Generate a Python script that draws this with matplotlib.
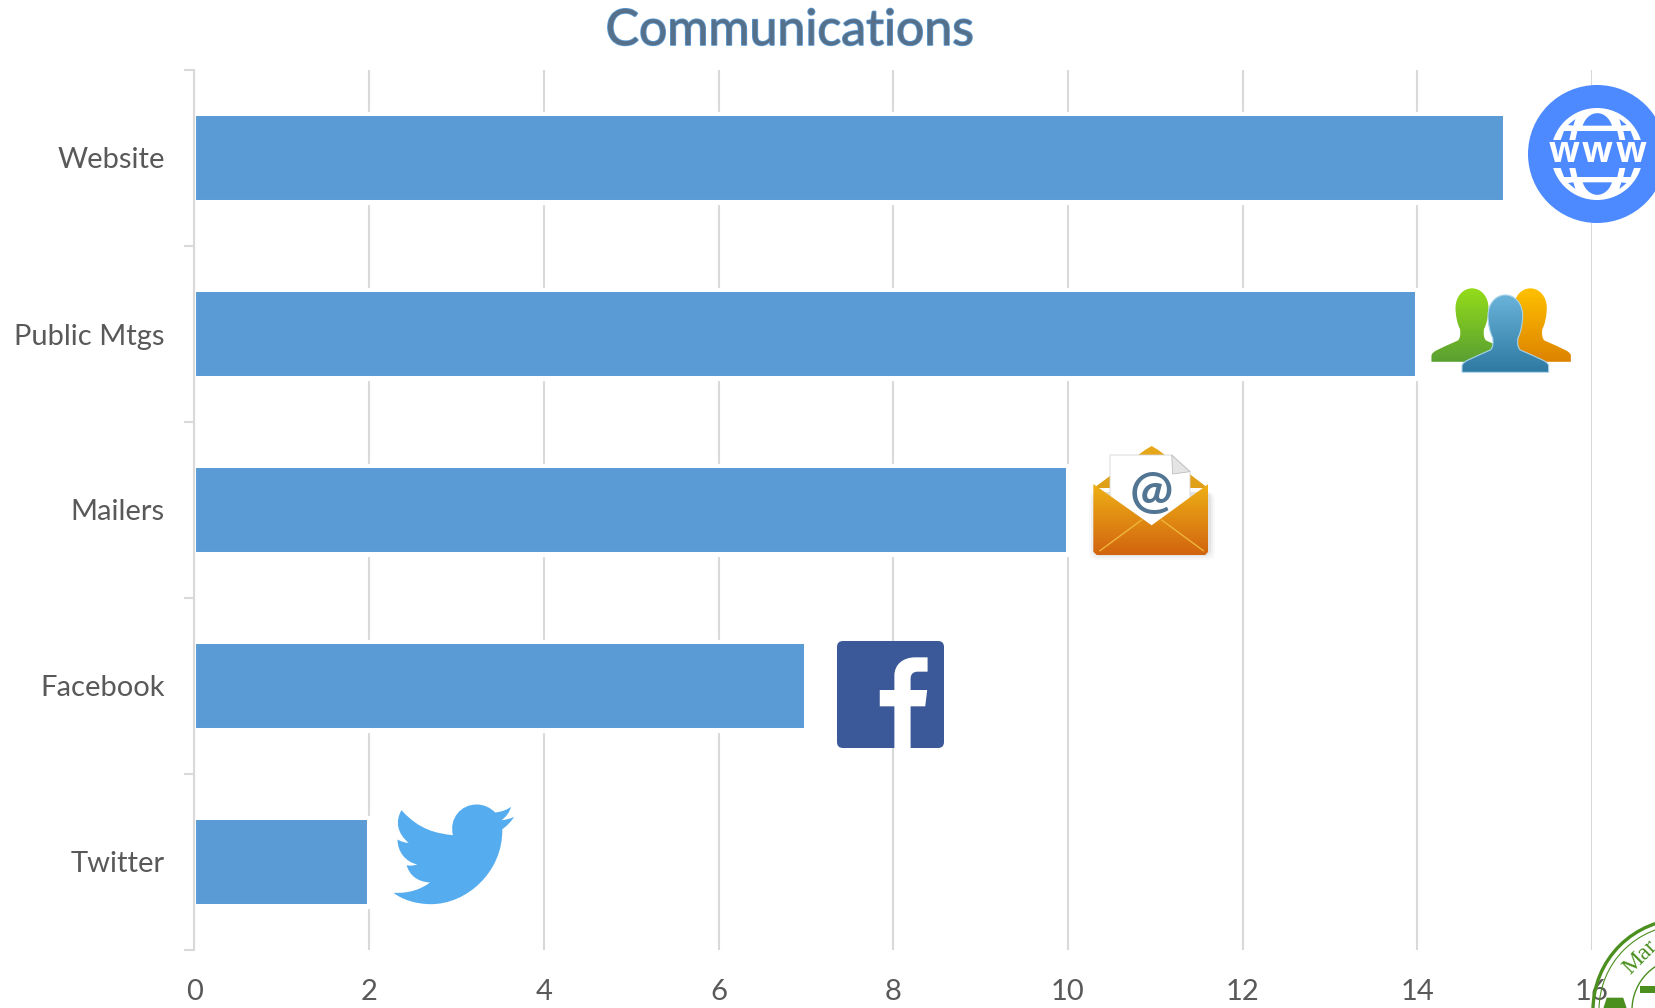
import numpy as np
import matplotlib
matplotlib.use("Agg")
import matplotlib.patheffects as pe
import matplotlib.pyplot as plt
from matplotlib.colors import LinearSegmentedColormap
from matplotlib.patches import Circle, FancyBboxPatch, PathPatch, Polygon, Rectangle, RegularPolygon
from matplotlib.path import Path

categories = ["Website", "Public Mtgs", "Mailers", "Facebook", "Twitter"]
values = [15, 14, 10, 7, 2]
x_ticks = [0, 2, 4, 6, 8, 10, 12, 14, 16]

WIDTH, HEIGHT = 1656, 1008
BAR = "#5b9bd5"
GRID = "#d9d9d9"
TEXT = "#595959"
GLOBE = "#4d8aff"

plt.rcParams["font.family"] = ["Lato", "DejaVu Sans"]

fig = plt.figure(figsize=(WIDTH / 100, HEIGHT / 100), dpi=100, facecolor="white")
ax = fig.add_axes([194.5 / WIDTH, 1 - 950 / HEIGHT, (1592 - 194.5) / WIDTH, 880 / HEIGHT])

# white edge on the bars, it also breaks the gridlines above and below them
ax.barh(categories, values, height=0.5, color=BAR, edgecolor="white", linewidth=2.9, zorder=2,
        path_effects=[pe.withStroke(linewidth=3.8, foreground="white")])
ax.set_xlim(0, 16)
ax.set_ylim(4.5, -0.5)
ax.set_xticks(x_ticks)
ax.set_yticks(np.arange(-0.5, 5), minor=True)
ax.grid(axis="x", color=GRID, linewidth=1.5, zorder=1)
ax.set_axisbelow(True)
ax.tick_params(axis="x", length=0, pad=21, labelsize=21, labelcolor=TEXT)
ax.tick_params(axis="y", which="major", length=0, pad=21.5, labelsize=21, labelcolor=TEXT)
ax.tick_params(axis="y", which="minor", length=7.2, width=1.5, color=GRID)
for side in ["top", "right", "bottom"]:
    ax.spines[side].set_visible(False)
ax.spines["left"].set_color(GRID)
ax.spines["left"].set_linewidth(1.5)
ax.spines["left"].set_zorder(3)

fig.text(790 / WIDTH, 1 - 31 / HEIGHT, "Communications", ha="center", va="center", fontsize=36,
         color="#56708a", path_effects=[pe.withStroke(linewidth=1.2, foreground=BAR)])

# overlay in image pixels for the pictures next to the bars
ov = fig.add_axes([0, 0, 1, 1], zorder=5)
ov.patch.set_alpha(0)
ov.axis("off")


def gradient(path, top, bottom):
    patch = PathPatch(path, facecolor="none", edgecolor="none", transform=ov.transData)
    ov.add_patch(patch)
    x0, y0 = path.vertices.min(axis=0)
    x1, y1 = path.vertices.max(axis=0)
    cmap = LinearSegmentedColormap.from_list("g", [top, bottom])
    im = ov.imshow(np.linspace(0, 1, 64)[:, None], cmap=cmap, aspect="auto",
                   extent=[x0, x1, y1, y0], zorder=patch.get_zorder())
    im.set_clip_path(patch)
    return im


def zoomed(sx, sy, ox, oy):
    return lambda pts: [(x / sx + ox, y / sy + oy) for x, y in pts]


# website globe
G = zoomed(3, 3, 1540, 95)
ov.add_patch(Circle((1597, 154), 69, color=GLOBE, lw=0))
ov.add_patch(Circle((1597, 154), 46, color="white", lw=0))
for flip in [1, -1]:
    def f(x, y):
        return (x, 177 + flip * (y - 177))
    lens = [f(128, 92), f(145, 42), f(199, 42), f(216, 92), f(128, 92)]
    ov.add_patch(PathPatch(Path(G(lens), [Path.MOVETO, Path.CURVE4, Path.CURVE4, Path.CURVE4, Path.CLOSEPOLY]),
                           color=GLOBE, lw=0))
    ov.add_patch(Polygon(G([f(112, 108), f(232, 108), f(238, 135), f(106, 135)]), color=GLOBE, lw=0))
    ov.add_patch(Polygon(G([f(72, 108), f(94, 108), f(88, 135), f(62, 135)]), color=GLOBE, lw=0))
    ov.add_patch(Polygon(G([f(272, 108), f(250, 108), f(256, 135), f(282, 135)]), color=GLOBE, lw=0))
    ov.add_patch(Polygon(G([f(84, 90), f(106, 72), f(100, 92)]), color=GLOBE, lw=0))
    ov.add_patch(Polygon(G([f(260, 90), f(238, 72), f(244, 92)]), color=GLOBE, lw=0))
ov.add_patch(Polygon(G([(20, 135), (324, 135), (324, 219), (20, 219)]), color=GLOBE, lw=0))
for x_w in [72, 172, 272]:
    ov.text(1540 + x_w / 3, 153, "w", ha="center", va="center", fontsize=26, color="white",
            fontweight="bold", family="Open Sans")


# people
def person(cx, top, scale, w):
    half = [(-w, 232), (-w, 212), (-w + 2, 198), (-100, 190), (-45, 165), (-36, 158), (-36, 140), (-38, 128),
            (-46, 115), (-52, 85), (-52, 62), (-52, 25), (-28, 0), (0, 0)]
    right = [(-x, y) for x, y in half[-2::-1]]
    pts = half + right + [half[0]]
    codes = [Path.MOVETO, Path.LINETO] + [Path.CURVE4] * 24 + [Path.LINETO, Path.CLOSEPOLY]
    P = zoomed(3, 3, 1380, 60)
    return Path(P([(cx + x * scale, top + y * scale) for x, y in pts]), codes)


gradient(person(451, 685, 0.95, 128), "#ffc000", "#dd8300")
gradient(person(276, 685, 0.95, 128), "#94dc1a", "#5aa032")
blue_person = person(376, 705, 1.0, 130)
gradient(blue_person, "#6ab3da", "#2e7aa3")
ov.add_patch(PathPatch(blue_person, facecolor="none", edgecolor="#a9d4ea", lw=0.8))

# mail envelope
E = zoomed(3, 3, 1050, 420)
for grow, alpha in [(12, 0.025), (8, 0.035), (4, 0.05)]:
    ov.add_patch(FancyBboxPatch((1095 - grow / 2, 492), 114 + grow, 62 + grow / 2,
                                boxstyle="round,pad=0,rounding_size=8", color="black", alpha=alpha, lw=0))
back = Path(E([(130, 205), (285, 90), (305, 78), (325, 90), (475, 205), (130, 205)]),
            [Path.MOVETO, Path.LINETO, Path.LINETO, Path.LINETO, Path.LINETO, Path.CLOSEPOLY])
gradient(back, "#e8a81a", "#dfa018")
ov.add_patch(Polygon(E([(180, 105), (365, 105), (420, 155), (420, 240), (305, 318), (180, 230)]),
                     facecolor="white", edgecolor="#d5d5d5", lw=0.6))
ov.add_patch(Polygon(E([(365, 105), (420, 155), (368, 162)]), facecolor="#e4e4e4", edgecolor="#bdbdbd", lw=0.6))
ov.text(*E([(303, 220)])[0], "@", ha="center", va="center", fontsize=37, color="#527593", fontweight="bold")
front = Path(E([(130, 192), (305, 316), (475, 192), (475, 395), (465, 405), (140, 405), (130, 395), (130, 192)]),
             [Path.MOVETO] + [Path.LINETO] * 6 + [Path.CLOSEPOLY])
gradient(front, "#eeb016", "#d2640f")
ov.plot(*zip(*E([(150, 392), (275, 300)])), color="#f0b53c", lw=1)
ov.plot(*zip(*E([(460, 392), (335, 300)])), color="#f0b53c", lw=1)

# facebook
ov.add_patch(FancyBboxPatch((840, 644), 101, 101, boxstyle="round,pad=3,rounding_size=6", color="#3b5998", lw=0))
F = zoomed(2.53, 3, 360, 619)
f_verts = [(1352, 387), (1352, 262), (1315, 262), (1315, 213), (1352, 213), (1352, 170), (1352, 135), (1375, 115),
           (1405, 115), (1436, 115), (1436, 158), (1412, 158), (1398, 158), (1393, 166), (1393, 180), (1393, 213),
           (1435, 213), (1430, 262), (1393, 262), (1393, 387), (1352, 387)]
f_codes = [Path.MOVETO] + [Path.LINETO] * 4 + [Path.LINETO, Path.CURVE4, Path.CURVE4, Path.CURVE4] + \
          [Path.LINETO] * 2 + [Path.LINETO, Path.CURVE4, Path.CURVE4, Path.CURVE4] + [Path.LINETO] * 5 + [Path.CLOSEPOLY]
ov.add_patch(PathPatch(Path(F(f_verts), f_codes), color="white", lw=0))

# twitter bird
b_verts = [(105, 575), (150, 635), (195, 645), (235, 650), (225, 600), (255, 558), (295, 558), (315, 558), (330, 568),
           (342, 582), (358, 580), (372, 574), (382, 565), (378, 582), (370, 595), (358, 605), (370, 604), (382, 600),
           (390, 595), (382, 610), (372, 622), (360, 632), (362, 760), (270, 857), (180, 857), (140, 857), (105, 842),
           (85, 823), (125, 825), (155, 812), (177, 792), (145, 790), (125, 770), (118, 740), (128, 743), (135, 741),
           (145, 738), (115, 730), (95, 700), (95, 663), (105, 670), (115, 673), (123, 673), (95, 645), (88, 610),
           (105, 575), (105, 575)]
b_codes = [Path.MOVETO] + [Path.CURVE4] * 45 + [Path.CLOSEPOLY]
T = zoomed(2.53, 3, 360, 618.5)
ov.add_patch(PathPatch(Path(T(b_verts), b_codes), color="#55acee", lw=0))

# corner of the green seal, cut by the image edge
SEAL = "#4b8f1f"
ov.add_patch(Circle((1684, 1010), 91, facecolor="none", edgecolor=SEAL, lw=2.4))
ov.add_patch(Circle((1684, 1010), 85, facecolor="none", edgecolor=SEAL, lw=0.8))
ov.add_patch(Circle((1684, 1010), 52, facecolor="none", edgecolor=SEAL, lw=1))
ov.add_patch(RegularPolygon((1615, 1009), 5, radius=14, color=SEAL, lw=0))
ov.text(1640, 957, "Mar", ha="center", va="center", rotation=45, fontsize=17, color=SEAL, family="Liberation Serif")
ov.add_patch(Rectangle((1640, 986), 16, 7, color=SEAL, lw=0))

ov.set_xlim(0, WIDTH)
ov.set_ylim(HEIGHT, 0)

fig.savefig("out.png", dpi=100)
